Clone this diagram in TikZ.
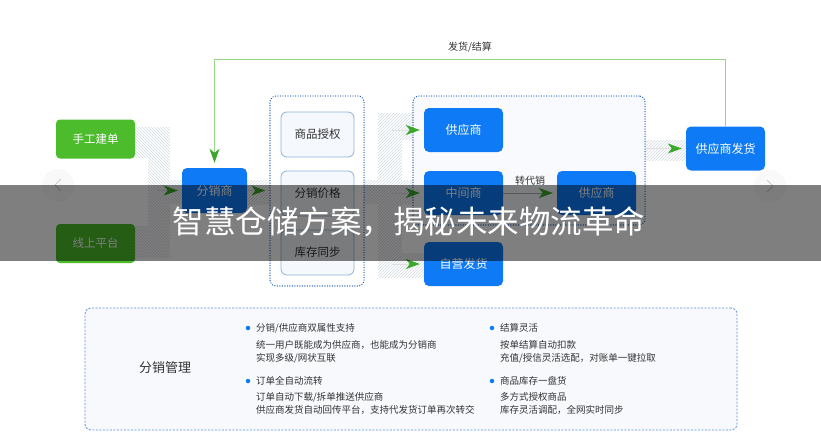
\documentclass[tikz,border=0pt]{standalone}
\usepackage{fontspec}
\setmainfont{Noto Sans CJK SC}
\usetikzlibrary{arrows.meta,patterns,positioning}

\definecolor{boxgreen}{HTML}{4CBB2C}
\definecolor{boxblue}{HTML}{0E7AF5}
\definecolor{arrgreen}{HTML}{3BA82A}
\definecolor{fbgreen}{HTML}{95D483}
\definecolor{dotblue}{HTML}{1E5FB4}
\definecolor{dashblue}{HTML}{5A8ED6}
\definecolor{parfill}{HTML}{F5F8FC}
\definecolor{pardraw}{HTML}{8DB3D6}
\definecolor{hatchc}{HTML}{D3D8E1}
\definecolor{txt}{HTML}{333333}

\tikzset{
  greenbox/.style={fill=boxgreen, text=white, rounded corners=4pt, minimum width=79pt, minimum height=39pt, inner sep=0pt, font=\fontsize{11.5}{12}\selectfont},
  bluebox/.style={fill=boxblue, text=white, rounded corners=5pt, minimum width=79pt, minimum height=44pt, inner sep=0pt, font=\fontsize{12}{13}\selectfont},
  parbox/.style={fill=parfill, draw=pardraw, line width=0.8pt, rounded corners=6pt, minimum width=73pt, minimum height=45pt, inner sep=0pt, text=txt, font=\fontsize{11.5}{12}\selectfont},
  dotbox/.style={draw=dotblue, line width=1.3pt, dash pattern=on 0.1pt off 2.4pt, line cap=round, rounded corners=6pt, inner sep=0pt},
  flow/.style={draw=gray!25, line width=0.8pt, -{Stealth[length=14pt,width=10pt,inset=4pt,color=arrgreen]}, shorten >=4pt},
  fbline/.style={draw=fbgreen, line width=1.2pt, -{Stealth[length=14pt,width=10pt,inset=4pt,color=arrgreen]}, shorten >=5pt},
  hatchne/.style={pattern=north east lines, pattern color=hatchc},
  hatchnw/.style={pattern=north west lines, pattern color=hatchc},
  item/.style={anchor=west, text=txt, inner sep=0pt, font=\fontsize{9.5}{10}\selectfont},
  dot/.style={circle, fill=boxblue, minimum size=4.5pt, inner sep=0pt},
  navbtn/.style={circle, fill=gray!5, minimum size=32pt, inner sep=0pt},
}

\begin{document}
\begin{tikzpicture}[x=1pt, y=-1pt]
  \useasboundingbox (0,0) rectangle (821,444);

  % 斜线色带
  \fill[hatchnw] (135,127) -- (170,127) -- (170,180) -- (182,180) -- (182,204) -- (170,204)
    -- (170,258) -- (135,258) -- (135,226) -- (148,226) -- (148,158) -- (135,158) -- cycle;
  \fill[hatchne] (247,180) rectangle (270,204);
  \fill[hatchne] (378,113) -- (413,113) -- (413,140) -- (402,140) -- (402,180) -- (413,180)
    -- (413,204) -- (402,204) -- (402,253) -- (424,253) -- (424,278) -- (378,278)
    -- (378,204) -- (364,204) -- (364,180) -- (378,180) -- cycle;
  \fill[hatchne] (645,140) rectangle (686,160);

  % 来源
  \node[greenbox] (sg) at (95.5,139) {手工建单};
  \node[greenbox] (xs) at (95.5,243.5) {线上平台};
  \node[bluebox, minimum width=65pt, minimum height=45pt] (fx) at (214.5,190.5) {分销商};

  % 授权参数
  \node[dotbox, minimum width=94pt, minimum height=190pt] (grp1) at (317,191) {};
  \node[parbox] (sq) at (317.5,134.5) {商品授权};
  \node[parbox] (jg) at (317.5,193.5) {分销价格};
  \node[parbox] (kc) at (317.5,252.5) {库存同步};

  % 供货方
  \node[dotbox, fill=parfill!70, minimum width=232pt, minimum height=129pt] (grp2) at (529,160.5) {};
  \node[bluebox] (gys1) at (463.5,130) {供应商};
  \node[bluebox] (zjs) at (463.5,193) {中间商};
  \node[bluebox] (gys2) at (596.5,193) {供应商};
  \node[bluebox] (zy) at (463.5,264) {自营发货};
  \node[bluebox] (ship) at (725.5,148.5) {供应商发货};

  % 箭头
  \coordinate (j0) at (158,190.5);
  \coordinate (j1) at (392,130);
  \coordinate (j2) at (392,193);
  \coordinate (j3) at (392,264);
  \draw[flow] (j0) -- (fx.west);
  \draw[flow] (fx.east) -- (fx.east -| grp1.west);
  \draw[flow] (j1) -- (gys1);
  \draw[flow] (j2) -- (zjs);
  \draw[flow] (j3) -- (zy);
  \draw[flow, draw=gray!60] (zjs) -- node[above=4pt, text=txt, font=\fontsize{10}{11}\selectfont] {转代销} (gys2);
  \draw[flow] (grp2.east |- ship) -- (ship);
  \draw[fbline] (ship.north) -- ++(0,-67) -| node[pos=0.25, above=3pt, text=txt, font=\fontsize{10}{11}\selectfont] {发货/结算} (fx.north);

  % 分销管理
  \node[draw=dashblue, line width=0.8pt, dash pattern=on 2pt off 1.5pt, fill=parfill!80,
    rounded corners=6pt, minimum width=652pt, minimum height=122pt] (gl) at (411,369) {};
  \node[text=txt, font=\fontsize{13}{14}\selectfont] (gltitle) at (165,368) {分销管理};

  \node[dot] (d1) at (248,328) {};
  \node[item] (t1) at (256,328) {分销/供应商双属性支持};
  \node[item] (t1a) at (256,345) {统一用户既能成为供应商，也能成为分销商};
  \node[item] (t1b) at (256,358) {实现多级/网状互联};
  \node[dot] (d2) at (248,381) {};
  \node[item] (t2) at (256,381) {订单全自动流转};
  \node[item] (t2a) at (256,397) {订单自动下载/拆单推送供应商};
  \node[item] (t2b) at (256,410) {供应商发货自动回传平台，支持代发货订单再次转交};
  \node[dot] (d3) at (492,328) {};
  \node[item] (t3) at (500,328) {结算灵活};
  \node[item] (t3a) at (500,345) {按单结算自动扣款};
  \node[item] (t3b) at (500,358) {充值/授信灵活选配，对账单一键拉取};
  \node[dot] (d4) at (492,381) {};
  \node[item] (t4) at (500,381) {商品库存一盘货};
  \node[item] (t4a) at (500,397) {多方式授权商品};
  \node[item] (t4b) at (500,410) {库存灵活调配，全网实时同步};

  % 翻页按钮
  \node[navbtn] (prev) at (58,185) {};
  \node[navbtn] (next) at (770,186) {};
  \draw[gray!40, line width=1pt] (prev.center) ++(3,-6) -- ++(-6,6) -- ++(6,6);
  \draw[gray!40, line width=1pt] (next.center) ++(-3,-6) -- ++(6,6) -- ++(-6,6);

  % 标题横幅
  \fill[black, opacity=0.5] (0,185) rectangle (821,261);
  \node[text=white, font=\fontsize{31.5}{32}\selectfont] (banner) at (409,222) {智慧仓储方案，揭秘未来物流革命};
\end{tikzpicture}
\end{document}
